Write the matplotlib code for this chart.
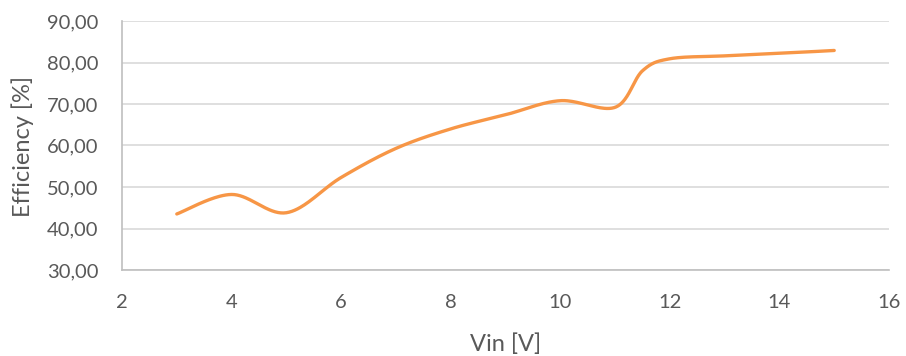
import numpy as np
import matplotlib.pyplot as plt
from matplotlib.ticker import FuncFormatter

# Measured converter efficiency vs. input voltage
vin = [3, 4, 5, 6, 7, 8, 9, 10, 11, 11.5, 12, 13, 14, 15]
efficiency = [43.5, 48.2, 43.8, 52.3, 59.3, 64.0, 67.4, 70.8, 69.2, 78.0, 80.9, 81.6, 82.2, 82.9]


def smooth(xs, ys, n=40):
    # Excel-style smoothed line: cubic Bezier segments with Catmull-Rom control points
    px = np.array(xs, dtype=float)
    py = np.array(ys, dtype=float)
    ex = np.concatenate([[px[0]], px, [px[-1]]])
    ey = np.concatenate([[py[0]], py, [py[-1]]])
    t = np.linspace(0, 1, n)
    out_x, out_y = [], []
    for i in range(len(px) - 1):
        p0 = np.array([ex[i + 1], ey[i + 1]])
        p3 = np.array([ex[i + 2], ey[i + 2]])
        c1 = p0 + (p3 - np.array([ex[i], ey[i]])) / 6
        c2 = p3 - (np.array([ex[i + 3], ey[i + 3]]) - p0) / 6
        b = ((1 - t) ** 3)[:, None] * p0 + (3 * (1 - t) ** 2 * t)[:, None] * c1 \
            + (3 * (1 - t) * t ** 2)[:, None] * c2 + (t ** 3)[:, None] * p3
        out_x.extend(b[:, 0])
        out_y.extend(b[:, 1])
    return out_x, out_y


plt.rcParams['font.family'] = ['Lato', 'DejaVu Sans']
text_color = '#595959'

fig = plt.figure(figsize=(9.06, 3.56), dpi=100)
ax = fig.add_axes([122 / 906, 1 - 270 / 356, (889 - 122) / 906, (270 - 21) / 356])

sx, sy = smooth(vin, efficiency)
ax.plot(sx, sy, color='#F79646', lw=2.4, solid_capstyle='round')

ax.set_xlim(2, 16)
ax.set_ylim(30, 90)
ax.set_xticks(range(2, 17, 2))
ax.set_yticks(range(30, 91, 10))
ax.yaxis.set_major_formatter(FuncFormatter(lambda v, p: f"{v:.2f}".replace('.', ',')))

ax.grid(axis='y', color='#D9D9D9', lw=1.2)
ax.set_axisbelow(True)
for s in ('top', 'right'):
    ax.spines[s].set_visible(False)
for s in ('left', 'bottom'):
    ax.spines[s].set_color('#BFBFBF')
    ax.spines[s].set_linewidth(1.2)
ax.tick_params(length=0, labelsize=14.5, colors=text_color)
ax.tick_params(axis='x', pad=17.5)
ax.tick_params(axis='y', pad=17)

ax.set_xlabel('Vin [V]', fontsize=17, color=text_color, va='baseline')
ax.xaxis.set_label_coords(0.5, (270 - 351) / 249)
ax.set_ylabel('Efficiency [%]', fontsize=17, color=text_color, va='center')
ax.yaxis.set_label_coords((22.5 - 122) / 767, 0.494)

fig.savefig('out.png', dpi=100)
